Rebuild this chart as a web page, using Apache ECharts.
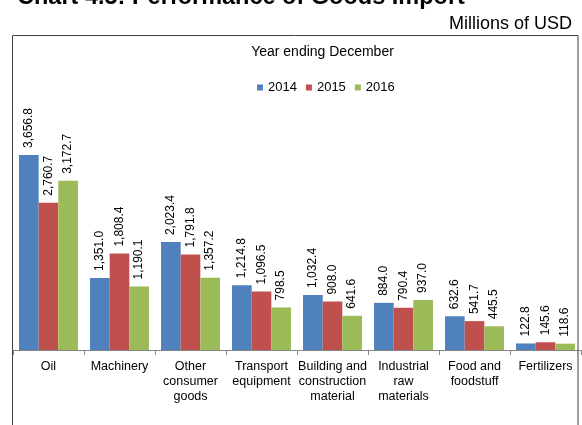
<!DOCTYPE html>
<html>
<head>
<meta charset="utf-8">
<script src="https://cdn.jsdelivr.net/npm/echarts@6/dist/echarts.min.js"></script>
<style>
html,body{margin:0;padding:0;background:#fff;}
#chart{width:582px;height:425px;}
</style>
</head>
<body>
<div id="chart"></div>
<script>
var categories = ['Oil', 'Machinery', 'Other\nconsumer\ngoods', 'Transport\nequipment', 'Building and\nconstruction\nmaterial', 'Industrial\nraw\nmaterials', 'Food and\nfoodstuff', 'Fertilizers'];
var seriesNames = ['2014', '2015', '2016'];
var values2014 = [3656.8, 1351.0, 2023.4, 1214.8, 1032.4, 884.0, 632.6, 122.8];
var values2015 = [2760.7, 1808.4, 1791.8, 1096.5, 908.0, 790.4, 541.7, 145.6];
var values2016 = [3172.7, 1190.1, 1357.2, 798.5, 641.6, 937.0, 445.5, 118.6];
var colors = ['#4F81BD', '#C0504D', '#9BBB59'];

var FONT = 'Liberation Sans, Arial, sans-serif';

function fmt(v) {
  var s = v.toFixed(1);
  var parts = s.split('.');
  parts[0] = parts[0].replace(/\B(?=(\d{3})+(?!\d))/g, ',');
  return parts.join('.');
}

var allValues = [values2014, values2015, values2016];
var series = seriesNames.map(function (name, i) {
  return {
    name: name,
    type: 'bar',
    data: allValues[i],
    barGap: '0%',
    barCategoryGap: '17%',
    itemStyle: { color: colors[i] },
    label: {
      show: true,
      position: 'top',
      rotate: 90,
      align: 'left',
      verticalAlign: 'middle',
      distance: 7,
      fontFamily: FONT,
      fontSize: 12,
      color: '#000',
      formatter: function (p) { return fmt(p.value); }
    }
  };
});

var chart = echarts.init(document.getElementById('chart'), null, { renderer: 'canvas' });
chart.setOption({
  animation: false,
  textStyle: { fontFamily: FONT },
  grid: { left: 13, right: 1, top: 136.7, bottom: 75, containLabel: false },
  legend: {
    data: seriesNames,
    left: 252,
    top: 76,
    icon: 'rect',
    itemWidth: 6,
    itemHeight: 6,
    itemGap: 9,
    textStyle: { fontFamily: FONT, fontSize: 13, color: '#000' }
  },
  xAxis: {
    type: 'category',
    data: categories,
    axisLine: { lineStyle: { color: '#868686', width: 1 } },
    axisTick: { show: true, length: 5, lineStyle: { color: '#868686' } },
    axisLabel: { fontFamily: FONT, fontSize: 12.5, lineHeight: 15, color: '#000', margin: 9, interval: 0 }
  },
  yAxis: {
    type: 'value',
    min: 0,
    max: 4000,
    show: false
  },
  series: series,
  graphic: [
    {
      type: 'rect',
      shape: { x: 12.5, y: 35.5, width: 565.5, height: 400 },
      style: { fill: 'none', stroke: '#404040', lineWidth: 1 },
      z: 100
    },
    {
      type: 'text',
      x: 17, y: -2.7,
      style: { text: 'Chart 4.5: Performance of Goods Import', font: 'bold 23.5px ' + FONT, fill: '#000', textVerticalAlign: 'middle', verticalAlign: 'middle', align: 'left' }
    },
    {
      type: 'text',
      x: 572, y: 23.7,
      style: { text: 'Millions of USD', font: '18px ' + FONT, fill: '#000', textVerticalAlign: 'middle', verticalAlign: 'middle', align: 'right', textAlign: 'right' }
    },
    {
      type: 'text',
      x: 322.5, y: 51.8,
      style: { text: 'Year ending December', font: '14px ' + FONT, fill: '#000', textVerticalAlign: 'middle', verticalAlign: 'middle', align: 'center', textAlign: 'center' }
    }
  ]
});
</script>
</body>
</html>
